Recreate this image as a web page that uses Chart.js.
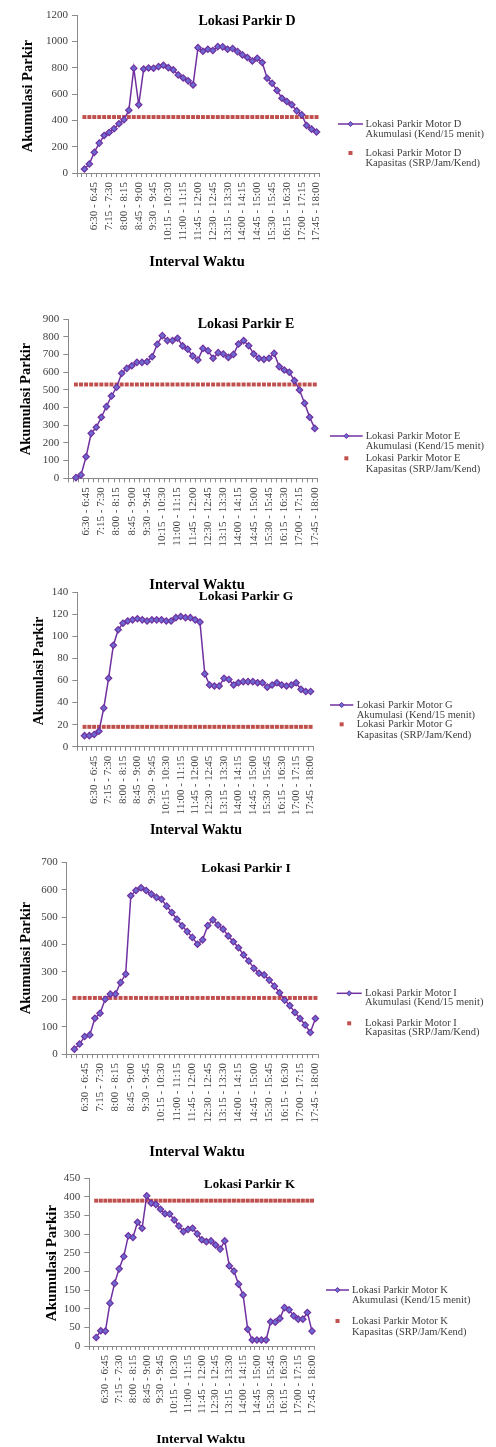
<!DOCTYPE html>
<html>
<head>
<meta charset="utf-8">
<script src="https://cdn.jsdelivr.net/npm/chart.js@4.4.1/dist/chart.umd.min.js"></script>
<style>
  html, body { margin: 0; padding: 0; background: #fff; }
  #page { position: relative; width: 496px; height: 1447px; overflow: hidden; background: #fff; }
  #page canvas { position: absolute; left: 0; }
</style>
</head>
<body>
<div id="page"></div>
<script>
// 15-minute survey intervals (a blank slot precedes the first one on the axis)
const intervals = ['',
  '6:00 - 6:15', '6:15 - 6:30', '6:30 - 6:45', '6:45 - 7:00', '7:00 - 7:15', '7:15 - 7:30',
  '7:30 - 7:45', '7:45 - 8:00', '8:00 - 8:15', '8:15 - 8:30', '8:30 - 8:45', '8:45 - 9:00',
  '9:00 - 9:15', '9:15 - 9:30', '9:30 - 9:45', '9:45 - 10:00', '10:00 - 10:15', '10:15 - 10:30',
  '10:30 - 10:45', '10:45 - 11:00', '11:00 - 11:15', '11:15 - 11:30', '11:30 - 11:45', '11:45 - 12:00',
  '12:00 - 12:15', '12:15 - 12:30', '12:30 - 12:45', '12:45 - 13:00', '13:00 - 13:15', '13:15 - 13:30',
  '13:30 - 13:45', '13:45 - 14:00', '14:00 - 14:15', '14:15 - 14:30', '14:30 - 14:45', '14:45 - 15:00',
  '15:00 - 15:15', '15:15 - 15:30', '15:30 - 15:45', '15:45 - 16:00', '16:00 - 16:15', '16:15 - 16:30',
  '16:30 - 16:45', '16:45 - 17:00', '17:00 - 17:15', '17:15 - 17:30', '17:30 - 17:45', '17:45 - 18:00'
];

// Parking accumulation (vehicles per 15 minutes) for each location
const accumD = [30, 68, 157, 227, 285, 308, 336, 374, 404, 477, 796, 518, 790, 798, 796, 808, 818, 800, 783, 745,
  722, 700, 669, 952, 925, 940, 930, 960, 958, 940, 945, 922, 897, 877, 851, 872, 839, 720, 682, 627,
  568, 543, 518, 472, 442, 361, 333, 311];
const accumE = [4, 19, 122, 254, 288, 345, 405, 465, 514, 593, 621, 636, 655, 655, 659, 687, 757, 806, 778, 778,
  791, 748, 729, 691, 668, 734, 721, 678, 710, 702, 683, 700, 759, 778, 749, 702, 678, 672, 678, 706,
  631, 612, 599, 552, 499, 424, 345, 282];
const accumG = [10, 10, 11, 14, 35, 62, 92, 106, 112, 114, 115, 116, 115, 114, 115, 115, 115, 114, 114, 117,
  118, 117, 117, 115, 113, 66, 56, 55, 55, 62, 61, 56, 58, 59, 59, 59, 58, 58, 54, 56,
  58, 56, 55, 56, 58, 52, 50, 50];
const accumI = [18, 37, 64, 70, 131, 149, 200, 219, 219, 261, 292, 578, 597, 607, 597, 584, 572, 565, 540, 517,
  492, 468, 447, 426, 401, 417, 469, 490, 471, 456, 431, 410, 388, 362, 340, 313, 295, 289, 270, 248,
  224, 197, 177, 152, 130, 106, 79, 130];
const accumK = [23, 41, 40, 115, 168, 207, 240, 296, 291, 332, 316, 403, 383, 380, 367, 355, 354, 338, 322, 307,
  313, 316, 301, 285, 280, 282, 271, 260, 282, 215, 201, 166, 137, 45, 16, 16, 16, 16, 65, 64,
  74, 103, 97, 81, 72, 72, 90, 40];

// Capacity (SRP/Jam/Kend) for each location, one value per interval
const capD = [425, 425, 425, 425, 425, 425, 425, 425, 425, 425, 425, 425, 425, 425, 425, 425, 425, 425, 425, 425,
  425, 425, 425, 425, 425, 425, 425, 425, 425, 425, 425, 425, 425, 425, 425, 425, 425, 425, 425, 425,
  425, 425, 425, 425, 425, 425, 425, 425];
const capE = [530, 530, 530, 530, 530, 530, 530, 530, 530, 530, 530, 530, 530, 530, 530, 530, 530, 530, 530, 530,
  530, 530, 530, 530, 530, 530, 530, 530, 530, 530, 530, 530, 530, 530, 530, 530, 530, 530, 530, 530,
  530, 530, 530, 530, 530, 530, 530, 530];
const capG = [18, 18, 18, 18, 18, 18, 18, 18, 18, 18, 18, 18, 18, 18, 18, 18, 18, 18, 18, 18,
  18, 18, 18, 18, 18, 18, 18, 18, 18, 18, 18, 18, 18, 18, 18, 18, 18, 18, 18, 18,
  18, 18, 18, 18, 18, 18, 18, 18];
const capI = [205, 205, 205, 205, 205, 205, 205, 205, 205, 205, 205, 205, 205, 205, 205, 205, 205, 205, 205, 205,
  205, 205, 205, 205, 205, 205, 205, 205, 205, 205, 205, 205, 205, 205, 205, 205, 205, 205, 205, 205,
  205, 205, 205, 205, 205, 205, 205, 205];
const capK = [390, 390, 390, 390, 390, 390, 390, 390, 390, 390, 390, 390, 390, 390, 390, 390, 390, 390, 390, 390,
  390, 390, 390, 390, 390, 390, 390, 390, 390, 390, 390, 390, 390, 390, 390, 390, 390, 390, 390, 390,
  390, 390, 390, 390, 390, 390, 390, 390];

// Y-axis ranges
const yMaxD = 1200, yStepD = 200;
const yMaxE = 900, yStepE = 100;
const yMaxG = 140, yStepG = 20;
const yMaxI = 700, yStepI = 100;
const yMaxK = 450, yStepK = 50;

const FONT = '"Liberation Serif", "Times New Roman", serif';
const LINE_PURPLE = '#7030a0';
const MARKER_FILL = '#6b6bd1';
const CAP_RED = '#c0504d';
const TEXT_GRAY = '#404040';
const AXIS_GRAY = '#8a8a8a';
const Y_W = 40, X_H = 80;

const page = document.getElementById('page');

function drawDiamond(ctx, x, y, r) {
  ctx.beginPath();
  ctx.moveTo(x, y - r); ctx.lineTo(x + r, y); ctx.lineTo(x, y + r); ctx.lineTo(x - r, y);
  ctx.closePath();
  ctx.fillStyle = MARKER_FILL; ctx.fill();
  ctx.strokeStyle = LINE_PURPLE; ctx.lineWidth = 1; ctx.stroke();
}

function makeChart(spec) {
  const canvas = document.createElement('canvas');
  canvas.width = 496; canvas.height = spec.h;
  canvas.style.top = spec.top + 'px';
  canvas.style.width = '496px'; canvas.style.height = spec.h + 'px';
  page.appendChild(canvas);
  const o = spec.top;
  const a = spec.area;

  const decor = {
    id: 'decor' + spec.code,
    afterDraw(chart) {
      const ctx = chart.ctx;
      ctx.save();
      ctx.textBaseline = 'middle';
      // chart title
      ctx.fillStyle = '#000';
      ctx.textAlign = 'center';
      ctx.font = 'bold ' + spec.title.size + 'px ' + FONT;
      ctx.fillText('Lokasi Parkir ' + spec.code, spec.title.x, spec.title.y - o);
      // axis titles
      ctx.font = 'bold ' + spec.xTitle.size + 'px ' + FONT;
      ctx.fillText('Interval Waktu', spec.xTitle.x, spec.xTitle.y - o);
      ctx.save();
      ctx.translate(spec.yTitle.x, spec.yTitle.y - o);
      ctx.rotate(-Math.PI / 2);
      ctx.font = 'bold ' + spec.yTitle.size + 'px ' + FONT;
      ctx.fillText('Akumulasi Parkir', 0, 0);
      ctx.restore();
      // legend
      const L = spec.legend;
      const mid = (L.x1 + L.x2) / 2;
      ctx.strokeStyle = LINE_PURPLE; ctx.lineWidth = 1.5;
      ctx.beginPath(); ctx.moveTo(L.x1, L.ys[0] - o); ctx.lineTo(L.x2, L.ys[0] - o); ctx.stroke();
      drawDiamond(ctx, mid, L.ys[0] - o, 2.6);
      ctx.fillStyle = CAP_RED;
      ctx.fillRect(mid - 2, L.ys[2] - o - 2, 4, 4);
      ctx.fillStyle = TEXT_GRAY;
      ctx.textAlign = 'left';
      ctx.font = '10.5px ' + FONT;
      ctx.fillText('Lokasi Parkir Motor ' + spec.code, L.tx, L.ys[0] - o);
      ctx.fillText('Akumulasi (Kend/15 menit)', L.tx, L.ys[1] - o);
      ctx.fillText('Lokasi Parkir Motor ' + spec.code, L.tx, L.ys[2] - o);
      ctx.fillText('Kapasitas (SRP/Jam/Kend)', L.tx, L.ys[3] - o);
      ctx.restore();
    }
  };

  return new Chart(canvas, {
    type: 'line',
    data: {
      labels: intervals,
      datasets: [
        {
          label: 'Lokasi Parkir Motor ' + spec.code + ' Akumulasi (Kend/15 menit)',
          data: [null].concat(spec.accum),
          borderColor: LINE_PURPLE,
          borderWidth: 1.5,
          tension: 0,
          pointStyle: 'rectRot',
          pointRadius: 3.2,
          pointBackgroundColor: MARKER_FILL,
          pointBorderColor: LINE_PURPLE,
          pointBorderWidth: 1.2,
          clip: false
        },
        {
          label: 'Lokasi Parkir Motor ' + spec.code + ' Kapasitas (SRP/Jam/Kend)',
          data: [null].concat(spec.cap),
          showLine: false,
          pointStyle: 'rect',
          pointRadius: 2.8,
          pointBackgroundColor: CAP_RED,
          pointBorderColor: CAP_RED,
          pointBorderWidth: 0,
          clip: false
        }
      ]
    },
    options: {
      responsive: false,
      animation: false,
      devicePixelRatio: 1,
      events: [],
      layout: {
        padding: {
          left: a.l - Y_W,
          right: 496 - a.r,
          top: a.t - o,
          bottom: spec.h - (a.b - o) - X_H
        }
      },
      plugins: { legend: { display: false }, tooltip: { enabled: false }, title: { display: false } },
      scales: {
        x: {
          type: 'category',
          offset: true,
          grid: { display: true, drawOnChartArea: false, drawTicks: true, tickLength: 4, color: AXIS_GRAY, offset: true },
          border: { display: true, color: AXIS_GRAY, width: 1 },
          ticks: {
            autoSkip: false, minRotation: 90, maxRotation: 90, padding: 5,
            color: TEXT_GRAY, font: { family: FONT, size: spec.tickSize || 11 },
            callback(v, i) { return (i > 0 && i % 3 === 0) ? intervals[i] : ''; }
          },
          afterFit(s) { s.height = X_H; }
        },
        y: {
          min: 0, max: spec.max,
          grid: { display: true, drawOnChartArea: false, drawTicks: true, tickLength: 5, color: AXIS_GRAY },
          border: { display: true, color: AXIS_GRAY, width: 1 },
          ticks: {
            stepSize: spec.step, padding: 4, color: TEXT_GRAY, font: { family: FONT, size: 11 },
            callback(v) { return String(v); }
          },
          afterFit(s) { s.width = Y_W; }
        }
      }
    },
    plugins: [decor]
  });
}

makeChart({
  code: 'D', top: 0, h: 300, accum: accumD, cap: capD, max: yMaxD, step: yStepD,
  area: { l: 77, r: 319, t: 15, b: 173 },
  title: { x: 247, y: 21, size: 14 },
  yTitle: { x: 28, y: 96, size: 14.5 },
  xTitle: { x: 197, y: 262, size: 14.5 },
  legend: { x1: 338, x2: 363, tx: 365.5, ys: [124, 134.5, 153, 163.5] }
});
makeChart({
  code: 'E', top: 300, h: 300, accum: accumE, cap: capE, max: yMaxE, step: yStepE,
  area: { l: 68.3, r: 317.3, t: 319, b: 478.3 },
  title: { x: 246, y: 324.5, size: 14 },
  yTitle: { x: 26.7, y: 399, size: 14.5 },
  xTitle: { x: 197, y: 585, size: 14.5 },
  legend: { x1: 330, x2: 362.7, tx: 365.7, ys: [436, 446.5, 458.3, 469.3] }
});
makeChart({
  code: 'G', top: 580, h: 270, accum: accumG, cap: capG, max: yMaxG, step: yStepG,
  area: { l: 77.3, r: 313, t: 592.3, b: 746.7 },
  title: { x: 246, y: 597, size: 13.5 },
  yTitle: { x: 39, y: 671, size: 14 },
  xTitle: { x: 196, y: 830, size: 14 },
  legend: { x1: 330, x2: 353.3, tx: 356.7, ys: [705, 715, 724.3, 735] }
});
makeChart({
  code: 'I', top: 850, h: 310, accum: accumI, cap: capI, max: yMaxI, step: yStepI,
  area: { l: 66.7, r: 318, t: 862.3, b: 1054.1 },
  title: { x: 246, y: 868.3, size: 13.5 },
  yTitle: { x: 26, y: 958, size: 14.5 },
  xTitle: { x: 197, y: 1152, size: 14.5 },
  legend: { x1: 336.7, x2: 361.7, tx: 365, ys: [993.3, 1002.7, 1023.3, 1032.7] }
});
makeChart({
  code: 'K', top: 1160, h: 287, accum: accumK, cap: capK, max: yMaxK, step: yStepK,
  area: { l: 89.3, r: 314.3, t: 1178.3, b: 1346 },
  title: { x: 249.5, y: 1185, size: 13 },
  yTitle: { x: 51.7, y: 1263, size: 15 },
  xTitle: { x: 200.7, y: 1440, size: 13.5 },
  legend: { x1: 326, x2: 349, tx: 352, ys: [1290, 1300.5, 1321, 1332] }
});
</script>
</body>
</html>
